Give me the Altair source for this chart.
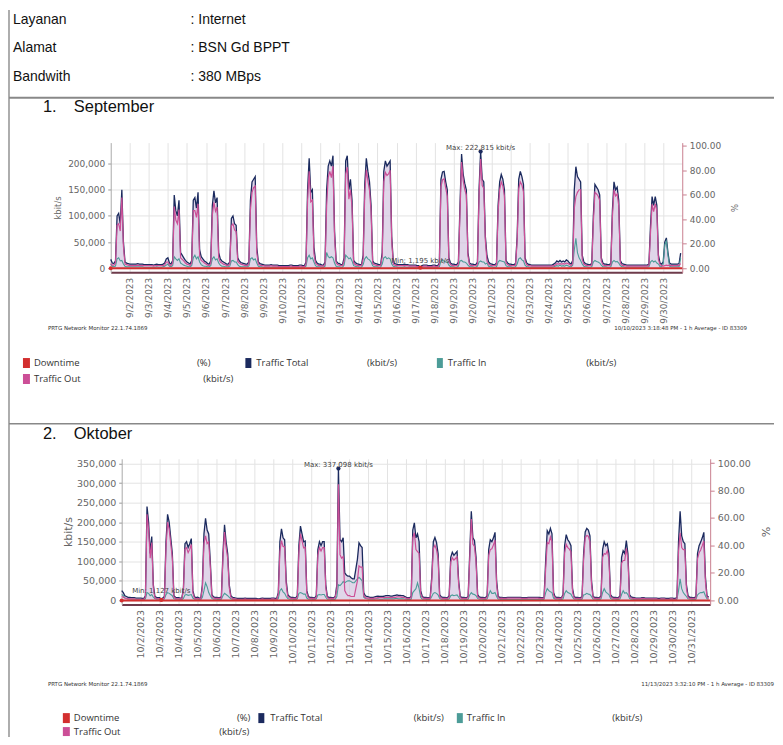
import altair as alt
import pandas as pd
from datetime import datetime

# ---------------- data (kbit/s values in thousands, 2-hour samples) ----------------
HOURS = [0, 2, 4, 6, 8, 10, 12, 14, 16, 18, 20, 22]

SEP_TOTAL_K = [
    [17, 10, 9, 14, 100, 105, 85, 150, 50, 12, 10, 9],
    [8, 8, 8, 8, 8, 9, 8, 8, 8, 7, 7, 7],
    [7, 7, 7, 6, 7, 8, 7, 7, 7, 8, 10, 18],
    [20, 10, 8, 15, 140, 110, 100, 130, 30, 25, 20, 15],
    [12, 10, 8, 15, 130, 135, 115, 145, 35, 22, 18, 14],
    [12, 9, 8, 14, 120, 148, 125, 135, 30, 18, 14, 12],
    [10, 8, 8, 12, 95, 100, 85, 82, 20, 14, 11, 10],
    [9, 8, 8, 12, 130, 165, 170, 175, 40, 12, 9, 8],
    [7, 6, 6, 6, 6, 7, 6, 6, 6, 6, 5, 5],
    [5, 5, 5, 5, 5, 6, 6, 5, 5, 5, 5, 6],
    [6, 5, 5, 12, 150, 210, 145, 150, 40, 15, 10, 8],
    [8, 6, 6, 12, 150, 195, 205, 195, 215, 70, 14, 10],
    [9, 7, 7, 20, 205, 215, 150, 170, 130, 15, 11, 9],
    [8, 7, 7, 25, 160, 210, 185, 165, 120, 14, 10, 9],
    [8, 7, 7, 30, 185, 205, 195, 200, 205, 60, 12, 9],
    [8, 7, 7, 7, 7, 8, 7, 7, 6, 6, 6, 6],
    [6, 5, 5, 1.195, 5, 6, 6, 6, 5, 5, 5, 6],
    [6, 5, 5, 10, 170, 184, 185, 165, 150, 20, 10, 8],
    [8, 7, 7, 12, 120, 218, 180, 162, 150, 30, 10, 8],
    [8, 7, 7, 12, 150, 222.815, 170, 165, 60, 24, 12, 9],
    [8, 7, 7, 10, 120, 165, 179, 170, 150, 15, 10, 8],
    [8, 7, 7, 9, 60, 170, 185, 175, 160, 20, 10, 8],
    [7, 6, 6, 6, 6, 6, 6, 6, 6, 6, 6, 6],
    [6, 6, 6, 8, 10, 14, 12, 15, 12, 14, 12, 16],
    [14, 10, 8, 15, 150, 194, 175, 170, 165, 25, 12, 9],
    [8, 7, 7, 9, 100, 160, 155, 150, 140, 20, 10, 8],
    [8, 7, 7, 9, 110, 165, 150, 155, 130, 15, 9, 8],
    [7, 6, 6, 6, 6, 6, 6, 6, 6, 6, 6, 6],
    [6, 6, 6, 8, 80, 137, 120, 137, 120, 25, 10, 8],
    [12, 50, 58, 30, 10, 8, 8, 8, 8, 8, 9, 29],
]
SEP_IN_K = [
    [8, 4, 3, 4, 18, 20, 14, 15, 8, 4, 3, 3],
    [3, 3, 3, 3, 3, 3, 3, 3, 3, 2, 2, 2],
    [2, 2, 2, 2, 2, 3, 2, 2, 2, 3, 4, 6],
    [8, 4, 3, 5, 22, 18, 15, 18, 10, 8, 6, 5],
    [4, 3, 3, 5, 20, 25, 18, 22, 12, 7, 5, 4],
    [4, 3, 3, 5, 18, 22, 16, 18, 10, 6, 4, 4],
    [3, 3, 3, 4, 14, 15, 12, 12, 7, 4, 3, 3],
    [3, 3, 3, 4, 18, 20, 16, 18, 10, 4, 3, 3],
    [2, 2, 2, 2, 2, 2, 2, 2, 2, 2, 2, 2],
    [2, 2, 2, 2, 2, 2, 2, 2, 2, 2, 2, 2],
    [2, 2, 2, 4, 20, 25, 18, 20, 12, 5, 3, 3],
    [3, 2, 2, 4, 30, 22, 20, 22, 20, 10, 4, 3],
    [3, 2, 2, 6, 25, 22, 18, 20, 14, 5, 4, 3],
    [3, 2, 2, 7, 18, 22, 18, 16, 12, 5, 3, 3],
    [3, 2, 2, 8, 20, 22, 18, 20, 18, 8, 4, 3],
    [3, 2, 2, 2, 2, 3, 2, 2, 2, 2, 2, 2],
    [2, 2, 2, 0.5, 2, 2, 2, 2, 2, 2, 2, 2],
    [2, 2, 2, 3, 14, 15, 14, 12, 12, 6, 3, 3],
    [3, 2, 2, 4, 14, 15, 12, 12, 10, 6, 3, 3],
    [3, 2, 2, 4, 12, 14, 12, 12, 8, 10, 4, 3],
    [3, 2, 2, 3, 12, 15, 14, 13, 12, 5, 3, 3],
    [3, 2, 2, 3, 8, 18, 20, 16, 14, 6, 3, 3],
    [2, 2, 2, 2, 2, 2, 2, 2, 2, 2, 2, 2],
    [2, 2, 2, 3, 4, 5, 4, 6, 4, 5, 4, 6],
    [5, 3, 3, 6, 35, 57, 30, 20, 15, 8, 4, 3],
    [3, 2, 2, 3, 12, 15, 13, 12, 10, 6, 3, 3],
    [3, 2, 2, 3, 12, 15, 12, 13, 10, 5, 3, 3],
    [2, 2, 2, 2, 2, 2, 2, 2, 2, 2, 2, 2],
    [2, 2, 2, 3, 12, 15, 12, 14, 10, 8, 3, 3],
    [8, 45, 52, 25, 4, 3, 3, 3, 3, 3, 3, 20],
]
OCT_TOTAL_K = [
    [25, 20, 12, 10, 8, 8, 7, 7, 7, 6, 6, 6],
    [6, 5, 5, 12, 240, 200, 120, 163, 40, 10, 8, 7],
    [7, 1.127, 6, 10, 150, 220, 200, 160, 120, 12, 8, 7],
    [7, 6, 6, 30, 145, 150, 135, 145, 158, 25, 9, 7],
    [8, 6, 6, 40, 170, 210, 180, 170, 100, 15, 9, 8],
    [8, 7, 7, 9, 120, 193, 150, 120, 40, 12, 8, 7],
    [6, 5, 5, 5, 5, 5, 6, 5, 5, 5, 5, 5],
    [5, 5, 4, 4, 5, 6, 5, 5, 5, 5, 5, 6],
    [6, 5, 5, 20, 150, 183, 160, 155, 50, 15, 10, 8],
    [8, 7, 6, 12, 140, 190, 170, 150, 152, 25, 10, 8],
    [8, 7, 6, 12, 130, 150, 140, 150, 150, 40, 10, 8],
    [8, 7, 7, 10, 40, 337.098, 155, 150, 160, 70, 65, 62],
    [62, 58, 55, 55, 80, 105, 147, 140, 135, 20, 12, 10],
    [9, 8, 8, 8, 9, 10, 11, 10, 10, 10, 11, 12],
    [12, 12, 11, 11, 12, 13, 14, 13, 13, 12, 12, 10],
    [8, 7, 7, 10, 180, 198, 160, 170, 150, 25, 10, 8],
    [8, 7, 7, 8, 60, 150, 161, 148, 120, 15, 9, 8],
    [8, 7, 7, 12, 110, 123, 115, 120, 125, 50, 10, 8],
    [8, 7, 7, 10, 120, 228, 160, 153, 110, 15, 9, 8],
    [8, 7, 7, 12, 130, 155, 150, 160, 174, 50, 10, 8],
    [8, 7, 7, 7, 8, 8, 8, 8, 8, 8, 8, 8],
    [8, 7, 7, 7, 7, 8, 8, 8, 8, 8, 8, 8],
    [8, 7, 7, 8, 100, 178, 170, 184, 170, 20, 9, 8],
    [8, 7, 7, 15, 140, 168, 155, 149, 140, 30, 9, 8],
    [8, 7, 7, 9, 120, 175, 184, 180, 165, 50, 10, 8],
    [8, 7, 7, 12, 130, 150, 140, 145, 120, 15, 9, 8],
    [8, 7, 7, 12, 110, 127, 120, 153, 120, 15, 9, 8],
    [7, 6, 6, 6, 6, 7, 7, 6, 6, 6, 6, 6],
    [6, 6, 6, 5, 5, 6, 6, 6, 5, 5, 5, 6],
    [6, 5, 5, 8, 150, 228, 165, 150, 145, 40, 12, 8],
    [8, 7, 7, 9, 120, 140, 149, 160, 174, 60, 12, 8],
]
OCT_IN_K = [
    [15, 12, 6, 5, 4, 4, 3, 3, 3, 3, 3, 3],
    [3, 2, 2, 4, 20, 18, 12, 15, 8, 4, 3, 3],
    [3, 0.5, 2, 4, 15, 20, 18, 15, 12, 4, 3, 3],
    [3, 2, 2, 5, 14, 15, 13, 14, 15, 6, 3, 3],
    [3, 2, 2, 8, 25, 45, 35, 20, 12, 5, 3, 3],
    [3, 2, 2, 3, 12, 18, 15, 12, 8, 4, 3, 3],
    [2, 2, 2, 2, 2, 2, 2, 2, 2, 2, 2, 2],
    [2, 2, 2, 2, 2, 2, 2, 2, 2, 2, 2, 2],
    [2, 2, 2, 5, 25, 30, 22, 18, 10, 5, 3, 3],
    [3, 2, 2, 4, 18, 20, 18, 16, 16, 6, 3, 3],
    [3, 2, 2, 4, 14, 15, 14, 15, 15, 8, 3, 3],
    [3, 2, 2, 3, 10, 40, 38, 42, 48, 45, 48, 50],
    [50, 48, 45, 45, 50, 55, 59, 55, 50, 8, 5, 4],
    [3, 3, 3, 3, 3, 4, 4, 3, 3, 3, 4, 4],
    [4, 4, 4, 4, 4, 5, 5, 4, 4, 4, 4, 3],
    [3, 2, 2, 3, 20, 25, 30, 45, 30, 8, 3, 3],
    [3, 2, 2, 3, 10, 18, 20, 18, 14, 5, 3, 3],
    [3, 2, 2, 4, 12, 14, 12, 13, 14, 8, 3, 3],
    [3, 2, 2, 3, 14, 20, 16, 15, 12, 5, 3, 3],
    [3, 2, 2, 4, 15, 25, 18, 18, 20, 10, 3, 3],
    [2, 2, 2, 2, 2, 2, 2, 2, 2, 2, 2, 2],
    [2, 2, 2, 2, 2, 2, 2, 2, 2, 2, 2, 2],
    [3, 2, 2, 3, 20, 30, 25, 22, 20, 6, 3, 3],
    [3, 2, 2, 4, 18, 25, 20, 18, 16, 8, 3, 3],
    [3, 2, 2, 3, 14, 15, 18, 16, 15, 10, 3, 3],
    [3, 2, 2, 4, 20, 30, 22, 18, 15, 5, 3, 3],
    [3, 2, 2, 4, 15, 25, 18, 20, 15, 5, 3, 3],
    [2, 2, 2, 2, 2, 2, 2, 2, 2, 2, 2, 2],
    [2, 2, 2, 2, 2, 2, 2, 2, 2, 2, 2, 2],
    [2, 2, 2, 3, 25, 55, 30, 20, 15, 10, 4, 3],
    [3, 2, 2, 3, 14, 18, 20, 20, 22, 12, 4, 3],
]

SEP_DAY_TICKS = list(range(2, 31))
OCT_DAY_TICKS = list(range(2, 32))
SEP_Y_TICKS = [0, 50000, 100000, 150000, 200000]
OCT_Y_TICKS = [0, 50000, 100000, 150000, 200000, 250000, 300000, 350000]
PCT_TICKS = [0, 20, 40, 60, 80, 100]

SEP_MAX = (datetime(2023, 9, 20, 10), 222815, "Max: 222,815 kbit/s")
SEP_MIN = (datetime(2023, 9, 17, 6), 1195, "Min: 1,195 kbit/s")
OCT_MAX = (datetime(2023, 10, 12, 10), 337098, "Max: 337,098 kbit/s")
OCT_MIN = (datetime(2023, 10, 3, 2), 1127, "Min: 1,127 kbit/s")

NAVY = "#1b2a5e"
PINK = "#cc4f97"
TEAL = "#4c9c98"
RED = "#d32f2f"
FILL = "#d3c5e0"


def frame(year, month, totals, ins):
    rows = []
    for d, (tday, iday) in enumerate(zip(totals, ins), start=1):
        for h, tv, iv in zip(HOURS, tday, iday):
            rows.append({"t": datetime(year, month, d, h), "total": tv * 1000,
                         "inn": iv * 1000, "out": (tv - iv) * 1000, "zero": 0})
    return pd.DataFrame(rows)


def panel(df, start, end, ticks, ydom, yticks, pdom, fs, tfs, tpad, rpad,
          mx, mn, mn_dy, width, height, extra):
    xs = alt.Scale(domain=[alt.DateTime(year=start.year, month=start.month, date=start.day),
                           alt.DateTime(year=end.year, month=end.month, date=end.day)])
    xa = alt.Axis(values=[alt.DateTime(year=start.year, month=start.month, date=d) for d in ticks],
                  format="%-m/%-d/%Y", labelAngle=270, labelFont="DejaVu Sans", labelFontSize=fs,
                  labelColor="#666", grid=True, gridColor="#e3e3e3", ticks=False,
                  domainColor="#6e3b4b", domainWidth=2, labelPadding=5, title=None,
                  labelOverlap=False, labelFlush=False, labelBound=False)
    ys = alt.Scale(domain=ydom, nice=False, zero=False)
    ya = alt.Axis(values=yticks, format=",.0f", labelFont="DejaVu Sans", labelFontSize=fs,
                  labelColor="#666", tickColor="#999", tickSize=3, domainColor="#aaa",
                  grid=True, gridColor="#e3e3e3", title="kbit/s", titleFont="DejaVu Sans",
                  titleFontSize=tfs, titleFontWeight="normal", titleColor="#666",
                  titlePadding=tpad, labelPadding=3)
    ps = alt.Scale(domain=pdom, nice=False, zero=False)
    pa = alt.Axis(orient="right", values=PCT_TICKS, format=".2f", labelFont="DejaVu Sans",
                  labelFontSize=fs, labelColor="#666", tickColor="#c98090", tickSize=4,
                  domainColor="#c98090", grid=False, title="%", titleFont="DejaVu Sans",
                  titleFontSize=tfs, titleFontWeight="normal", titleColor="#666",
                  titlePadding=rpad, labelPadding=3)
    X = alt.X("t:T", scale=xs, axis=xa)

    def Y(f):
        return alt.Y(f, type="quantitative", scale=ys, axis=ya)

    base = alt.Chart(df).encode(x=X)
    area = base.mark_area(color=FILL, opacity=0.7).encode(y=Y("total"), y2=alt.Y2("zero"))
    l_total = base.mark_line(color=NAVY, strokeWidth=1.3).encode(y=Y("total"))
    l_in = base.mark_line(color=TEAL, strokeWidth=1.1).encode(y=Y("inn"))
    l_out = base.mark_line(color=PINK, strokeWidth=1.2).encode(y=Y("out"))
    mxdf = pd.DataFrame({"t": [mx[0]], "v": [mx[1]], "label": [mx[2]]})
    mndf = pd.DataFrame({"t": [mn[0]], "v": [mn[1]], "label": [mn[2]]})
    mx_pt = alt.Chart(mxdf).mark_circle(color=NAVY, size=18, opacity=1).encode(x=X, y=Y("v"))
    mx_tx = alt.Chart(mxdf).mark_text(dy=-4, fontSize=7, font="DejaVu Sans", color="#444").encode(
        x=X, y=Y("v"), text="label:N")
    mn_pt = alt.Chart(mndf).mark_circle(color=RED, size=18, opacity=1).encode(x=X, y=Y("v"))
    mn_tx = alt.Chart(mndf).mark_text(dy=mn_dy, fontSize=7, font="DejaVu Sans", color="#444").encode(
        x=X, y=Y("v"), text="label:N")
    inner = alt.layer(area, l_total, l_in, l_out, mx_pt, mx_tx, mn_pt, mn_tx)

    dd = pd.DataFrame({"t": [start, end], "pct": [0, 0]})
    d_line = alt.Chart(dd).mark_line(color=RED, strokeWidth=2).encode(
        x=X, y=alt.Y("pct:Q", scale=ps, axis=pa))
    d_pt = alt.Chart(dd.head(1)).mark_circle(color=RED, size=16, opacity=1).encode(
        x=X, y=alt.Y("pct:Q", scale=ps, axis=pa))
    down = alt.layer(d_line, d_pt)
    return alt.layer(inner, down, *extra).resolve_scale(y="independent").properties(
        width=width, height=height)


# ---------------- decorations (page positions relative to the Sep plot origin) ----------------
ONE = pd.DataFrame({"k": [0]})
OX, OY = 110, 141


def txt(s, x, y, size, color="#222", align="left", font="Liberation Sans"):
    return alt.Chart(ONE).mark_text(text=s, align=align, baseline="middle", fontSize=size,
                                    font=font, color=color).encode(
        x=alt.value(x - OX), y=alt.value(y - OY))


def hline(x1, x2, y, color, w):
    return alt.Chart(ONE).mark_rule(color=color, strokeWidth=w).encode(
        x=alt.value(x1 - OX), x2=alt.value(x2 - OX), y=alt.value(y - OY))


def vline(x, y1, y2, color, w):
    return alt.Chart(ONE).mark_rule(color=color, strokeWidth=w).encode(
        x=alt.value(x - OX), y=alt.value(y1 - OY), y2=alt.value(y2 - OY))


def box(x1, x2, y1, y2, color):
    return alt.Chart(ONE).mark_rect(color=color).encode(
        x=alt.value(x1 - OX), x2=alt.value(x2 - OX), y=alt.value(y1 - OY), y2=alt.value(y2 - OY))


LEG = dict(size=9.5, color="#333", font="Open Sans")


def legend(x0, y1, y2, pos):
    (dt_unit, sq2, tt_x, tt_unit, sq3, ti_x, ti_unit, to_unit) = pos
    return [
        box(x0, x0 + 7, y1 - 5, y1 + 5, RED), txt("Downtime", x0 + 11, y1, **LEG),
        txt("(%)", dt_unit, y1, align="right", **LEG),
        box(sq2, sq2 + 6, y1 - 5, y1 + 5, NAVY), txt("Traffic Total", tt_x, y1, **LEG),
        txt("(kbit/s)", tt_unit, y1, align="right", **LEG),
        box(sq3, sq3 + 6, y1 - 5, y1 + 5, TEAL), txt("Traffic In", ti_x, y1, **LEG),
        txt("(kbit/s)", ti_unit, y1, align="right", **LEG),
        box(x0, x0 + 7, y2 - 5, min(y2 + 5, 736), PINK), txt("Traffic Out", x0 + 11, y2, **LEG),
        txt("(kbit/s)", to_unit, y2, align="right", **LEG),
    ]


decor = [
    vline(8, 8, 737, "#777", 1.2),
    hline(8, 775, 96, "#888", 2),
    hline(8, 775, 423, "#888", 1.5),
    txt("Layanan", 12, 18, 14, "#111"), txt(": Internet", 190, 18, 14, "#111"),
    txt("Alamat", 12, 46, 14, "#111"), txt(": BSN Gd BPPT", 190, 46, 14, "#111"),
    txt("Bandwith", 12, 75, 14, "#111"), txt(": 380 MBps", 190, 75, 14, "#111"),
    txt("1.", 42, 105, 16.5, "#111"), txt("September", 73, 105, 16.5, "#111"),
    txt("2.", 42, 433, 16.5, "#111"), txt("Oktober", 73, 433, 16.5, "#111"),
    txt("PRTG Network Monitor 22.1.74.1869", 47, 327, 5.5, "#333", font="DejaVu Sans"),
    txt("10/10/2023 3:18:48 PM - 1 h Average - ID 83309", 748, 327, 5.5, "#333",
        align="right", font="DejaVu Sans"),
    txt("PRTG Network Monitor 22.1.74.1869", 47, 684, 5.5, "#333", font="DejaVu Sans"),
    txt("11/13/2023 3:32:10 PM - 1 h Average - ID 83309", 775, 684, 5.5, "#333",
        align="right", font="DejaVu Sans"),
]
decor += legend(22, 362, 378, (210, 245, 256, 397, 437, 448, 617, 233))
decor += legend(62, 718, 732, (250, 258, 270, 444, 457, 467, 643, 249))

sep_df = frame(2023, 9, SEP_TOTAL_K, SEP_IN_K)
oct_df = frame(2023, 10, OCT_TOTAL_K, OCT_IN_K)

sep_chart = panel(sep_df, datetime(2023, 9, 1), datetime(2023, 10, 1), SEP_DAY_TICKS,
                  [-7620, 240000], SEP_Y_TICKS, [-3.25, 102.44], 9, 8.5, 5, 8,
                  SEP_MAX, SEP_MIN, -7, 573, 130, decor)
oct_chart = panel(oct_df, datetime(2023, 10, 1), datetime(2023, 11, 1), OCT_DAY_TICKS,
                  [-10200, 362000], OCT_Y_TICKS, [-2.9, 103.1], 9.5, 11, 3, 9,
                  OCT_MAX, OCT_MIN, -9, 590, 146, [])

spacer = alt.Chart(ONE).mark_point(opacity=0).encode(
    x=alt.value(0), y=alt.value(0)).properties(width=11, height=146)

row2 = alt.hconcat(spacer, oct_chart, spacing=0, bounds="flush")
chart = alt.vconcat(sep_chart, row2, spacing=187, bounds="flush", padding=0).configure_view(
    stroke=None)

chart.save("out.html", embed_options={"renderer": "svg", "actions": False})
